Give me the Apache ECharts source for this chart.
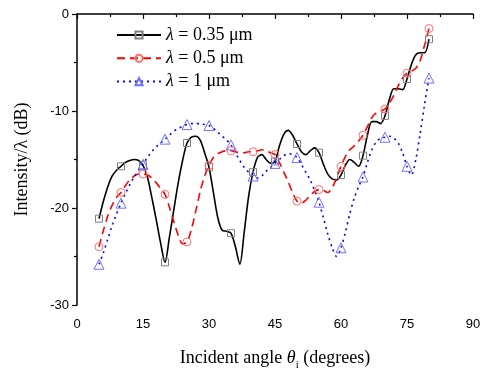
<!DOCTYPE html>
<html>
<head>
<meta charset="utf-8">
<script src="https://cdn.jsdelivr.net/npm/echarts@6/dist/echarts.min.js"></script>
<style>html,body{margin:0;padding:0;background:#fff}#c{width:489px;height:371px}</style>
</head>
<body>
<div id="c"></div>
<script>
// Incident angle (degrees)
var angles = [5,6,7,8,9,10,11,12,13,14,15,16,17,18,19,20,21,22,23,24,25,26,27,28,29,30,31,32,33,34,35,36,37,38,39,40,41,42,43,44,45,46,47,48,49,50,51,52,53,54,55,56,57,58,59,60,61,62,63,64,65,66,67,68,69,70,71,72,73,74,75,76,77,78,79,80];
// lambda = 0.35 um
var s035 = [-21.1,-19.3,-17.8,-16.7,-16.1,-15.7,-15.3,-15.1,-15.0,-15.1,-15.6,-16.8,-18.9,-21.2,-23.6,-25.6,-23.0,-20.2,-17.4,-15.1,-13.3,-12.7,-12.6,-13.0,-14.3,-15.8,-18.4,-21.0,-22.3,-22.4,-22.6,-24.0,-25.8,-22.5,-18.8,-16.3,-14.8,-14.5,-15.0,-15.4,-15.2,-13.6,-12.4,-12.0,-12.5,-13.4,-14.2,-14.5,-14.1,-13.8,-14.3,-15.5,-16.5,-17.0,-17.1,-16.6,-15.6,-15.0,-15.3,-15.7,-14.6,-12.5,-11.1,-11.1,-11.3,-10.5,-8.8,-7.7,-7.7,-7.8,-6.7,-5.2,-4.2,-4.0,-4.0,-2.6];
// lambda = 0.5 um
var s05 = [-24.0,-22.3,-20.8,-19.7,-18.9,-18.4,-17.7,-17.1,-16.7,-16.5,-16.5,-16.6,-16.9,-17.4,-18.0,-18.6,-19.9,-21.4,-22.8,-23.7,-23.5,-22.2,-20.3,-18.3,-16.7,-15.6,-14.8,-14.4,-14.2,-14.1,-14.1,-14.2,-14.3,-14.3,-14.2,-14.2,-14.1,-14.0,-14.1,-14.3,-14.5,-15.3,-16.3,-17.3,-18.4,-19.3,-19.5,-19.2,-18.7,-18.3,-18.1,-18.2,-18.4,-17.9,-16.9,-15.7,-14.7,-14.0,-13.6,-13.1,-12.5,-11.6,-10.7,-10.2,-10.0,-9.8,-9.2,-8.4,-7.4,-6.6,-6.1,-5.9,-5.6,-4.8,-3.2,-1.5];
// lambda = 1 um
var s1 = [-25.8,-24.6,-23.2,-21.8,-20.6,-19.5,-18.5,-17.6,-16.8,-16.1,-15.5,-14.8,-14.2,-13.7,-13.3,-12.9,-12.5,-12.1,-11.8,-11.6,-11.4,-11.3,-11.3,-11.3,-11.4,-11.5,-11.8,-12.2,-12.6,-13.0,-13.5,-14.3,-15.1,-15.8,-16.3,-16.7,-16.9,-16.7,-16.2,-15.8,-15.4,-15.0,-14.6,-14.4,-14.5,-14.8,-15.5,-16.3,-17.1,-18.2,-19.4,-21.0,-22.7,-24.1,-25.0,-24.1,-22.5,-20.6,-19.0,-17.8,-16.8,-15.3,-14.0,-13.2,-12.8,-12.7,-12.6,-12.8,-13.3,-14.3,-15.7,-16.6,-15.0,-12.3,-9.3,-6.6];
var seriesNames = ['λ = 0.35 μm', 'λ = 0.5 μm', 'λ = 1 μm'];
var xTicks = [0, 15, 30, 45, 60, 75, 90];
var yTicks = [-30, -20, -10, 0];

function build(vals) {
  return angles.map(function (a, i) {
    return a % 5 === 0 ? { value: [a, vals[i]] } : { value: [a, vals[i]], symbol: 'none' };
  });
}

var chart = echarts.init(document.getElementById('c'), null, { renderer: 'canvas' });
var serif = '"Liberation Serif", "Times New Roman", serif';
var sans = '"Liberation Sans", Arial, sans-serif';

function mk(name, vals, sym, lineColor, markColor, type, size) {
  return {
    name: name, type: 'line', smooth: 0.3, symbol: sym, symbolSize: size,
    showAllSymbol: true, data: build(vals),
    lineStyle: { color: lineColor, width: 1.6, type: type },
    itemStyle: { color: 'rgba(255,255,255,0)', borderColor: markColor, borderWidth: 1 },
    emphasis: { disabled: true }, z: 2
  };
}

chart.setOption({
  animation: false,
  backgroundColor: '#fff',
  grid: { left: 77, right: 16, top: 14, bottom: 66, containLabel: false, outerBoundsMode: 'none' },
  legend: {
    left: 111, top: 21, orient: 'vertical', itemWidth: 44, itemHeight: 9, itemGap: 5.3,
    data: seriesNames,
    formatter: function (n) { return '{i|λ}' + n.slice(1); },
    textStyle: { fontFamily: serif, fontSize: 18, color: '#000', rich: { i: { fontFamily: serif, fontSize: 18, fontStyle: 'italic', color: '#000' } } }
  },
  xAxis: {
    type: 'value', min: 0, max: 90, interval: 15,
    name: 'Incident angle {t|θ}{s|i} (degrees)', nameLocation: 'middle', nameGap: 41,
    nameTextStyle: { fontFamily: serif, fontSize: 18, color: '#000',
      rich: { t: { fontFamily: serif, fontSize: 18, fontStyle: 'italic', color: '#000' },
              s: { fontFamily: serif, fontSize: 11, color: '#000', padding: [14, 0, 0, 0] } } },
    axisLine: { lineStyle: { color: '#000', width: 1.5 } },
    axisTick: { length: 5, lineStyle: { color: '#000', width: 1.2 } },
    minorTick: { show: true, splitNumber: 2, length: 3, lineStyle: { color: '#000', width: 1.2 } },
    splitLine: { show: false },
    axisLabel: { fontFamily: sans, fontSize: 13, color: '#000', margin: 13 }
  },
  yAxis: {
    type: 'value', min: -30, max: 0, interval: 10,
    name: 'Intensity/λ (dB)', nameLocation: 'middle', nameGap: 46,
    nameTextStyle: { fontFamily: serif, fontSize: 18, color: '#000' },
    axisLine: { show: true, lineStyle: { color: '#000', width: 1.5 } },
    axisTick: { show: true, length: 5, lineStyle: { color: '#000', width: 1.2 } },
    minorTick: { show: true, splitNumber: 2, length: 3, lineStyle: { color: '#000', width: 1.2 } },
    splitLine: { show: false },
    axisLabel: { fontFamily: sans, fontSize: 13, color: '#000', margin: 8 }
  },
  series: [
    mk(seriesNames[0], s035, 'rect', '#000', '#808080', 'solid', 7),
    mk(seriesNames[1], s05, 'circle', '#ff0000', '#ff7070', [8, 5], 8),
    mk(seriesNames[2], s1, 'triangle', '#0000ff', '#7070ff', [2, 4], 10)
  ]
});
</script>
</body>
</html>
